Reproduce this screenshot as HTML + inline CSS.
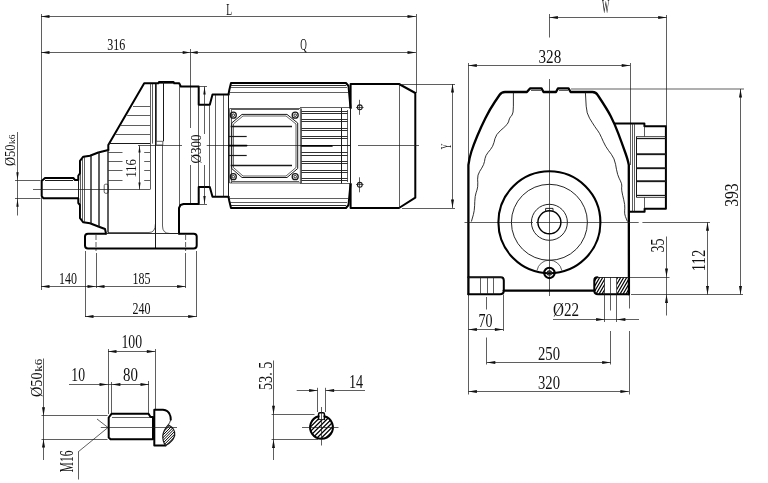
<!DOCTYPE html>
<html><head><meta charset="utf-8"><title>Gear motor dimension drawing</title>
<style>
html,body{margin:0;padding:0;background:#fff;}
body{width:768px;height:483px;overflow:hidden;}
svg{display:block;opacity:0.999;will-change:transform;}
.n{fill:none;stroke:#1a1a1a;stroke-width:0.7;stroke-linecap:butt;stroke-linejoin:round}
.k{fill:none;stroke:#000;stroke-width:2.0;stroke-linecap:round;stroke-linejoin:round}
.a{fill:#111;stroke:none}
text{font-family:"Liberation Serif",serif;fill:#111;}
</style></head><body>
<svg width="768" height="483" viewBox="0 0 768 483">
<rect width="768" height="483" fill="#fff"/>
<path class="n" d="M41.5 14L41.5 290"/>
<path class="n" d="M41 16.5L416 16.5"/>
<path class="a" d="M41 16.5L49.5 15L49.5 18Z"/>
<path class="a" d="M416 16.5L407.5 15L407.5 18Z"/>
<text x="226.2" y="15" font-size="16.72" textLength="5.8" lengthAdjust="spacingAndGlyphs">L</text>
<path class="n" d="M41 52.5L416 52.5"/>
<path class="a" d="M41 52.5L49.5 51L49.5 54Z"/>
<path class="a" d="M190.2 52.5L182.7 51.1L182.7 53.9Z"/>
<path class="a" d="M190.2 52.5L197.7 51.1L197.7 53.9Z"/>
<path class="a" d="M416 52.5L407.5 51L407.5 54Z"/>
<text x="107.2" y="49.9" font-size="15.98" textLength="18" lengthAdjust="spacingAndGlyphs">316</text>
<text x="300.3" y="49.6" font-size="16.72" textLength="6.6" lengthAdjust="spacingAndGlyphs">Q</text>
<path class="n" d="M190.5 49L190.5 128"/>
<path class="n" d="M190.5 165L190.5 204"/>
<path class="n" d="M416.5 14L416.5 93"/>
<path class="k" d="M108.3 150L108.3 145L144.2 83.3L158.3 83.3L159 81.9L173.5 81.9L174.2 83.3L179.2 83.3L180.8 86.5L198.7 86.5L198.7 104.7L209.8 104.7L212.5 94.6L228.5 94.6"/>
<path class="n" d="M158.3 83.5L174.2 83.5"/>
<path class="n" d="M133 106.5L150 106.5"/>
<path class="n" d="M127.2 115.5L150 115.5"/>
<path class="n" d="M120.6 125.5L150 125.5"/>
<path class="n" d="M115.6 134.5L150 134.5"/>
<path class="n" style="stroke-width:1.2" d="M108.3 143.5L150 143.5"/>
<path class="n" d="M150.5 83.3L150.5 189.5"/>
<path class="n" d="M152.5 84L152.5 143.6"/>
<path class="n" d="M156.5 83.3L156.5 141.3"/>
<path class="n" style="stroke-width:1.0" d="M163.5 82L163.5 141.3"/>
<path class="n" d="M179.5 84L179.5 232"/>
<path class="n" d="M198.5 104.7L198.5 187"/>
<path class="n" d="M156.3 141.3L162.8 141.3L162.8 145L156.3 145Z"/>
<path class="n" d="M138 145.5L182 145.5"/>
<path class="n" d="M206.7 145.5L350 145.5"/>
<path class="k" d="M108.3 150L98.3 152.5L90 155.8L83.3 156.7L80 160.8L80 173.3L78.3 175.8L78.3 180"/>
<path class="k" d="M78.3 198.5L78.3 203L80 205L80 218.2L83.3 222.3L90 223.2L98.3 226.5L105 229L106 233.5"/>
<path class="n" style="stroke-width:1.0" d="M78.5 180L78.5 198.5"/>
<path class="n" d="M80.5 160.8L80.5 218.2"/>
<path class="n" d="M82.5 158L82.5 221"/>
<path class="n" d="M84.5 157L84.5 222.3"/>
<path class="n" d="M90.5 156L90.5 223.2"/>
<path class="n" d="M91.5 155.5L91.5 223.6"/>
<path class="n" d="M98.5 152.5L98.5 226.5"/>
<path class="n" d="M99.5 152.3L99.5 226.8"/>
<path class="n" d="M107.5 150L107.5 232"/>
<path class="n" d="M108.5 150L108.5 233"/>
<path class="n" d="M108.3 152.5L122.5 152.5"/>
<path class="n" d="M144.2 152.5L150 152.5"/>
<path class="n" d="M108.3 161.5L122.5 161.5"/>
<path class="n" d="M144.2 161.5L150 161.5"/>
<path class="n" d="M108.3 170.5L122.5 170.5"/>
<path class="n" d="M144.2 170.5L150 170.5"/>
<path class="n" d="M108.3 180.5L122.5 180.5"/>
<path class="n" d="M144.2 180.5L150 180.5"/>
<rect class="n" x="104.2" y="184.2" width="4.1" height="9.1" rx="1.5"/>
<path class="k" d="M78 180L75 180L73.3 178L45 178L41.7 181L41.7 196L43.5 198.3L78 198.3"/>
<path class="n" style="stroke-width:1.0" d="M45 180.5L73 180.5"/>
<path class="n" d="M33 189.5L150 189.5"/>
<path class="n" d="M139.5 145.4L139.5 189.5"/>
<path class="a" d="M139.5 145.4L138.4 152.4L140.6 152.4Z"/>
<path class="a" d="M139.5 189.5L138.4 182.5L140.6 182.5Z"/>
<text transform="translate(136.4 177.5) rotate(-90)" font-size="14.79" textLength="18.3" lengthAdjust="spacingAndGlyphs">116</text>
<path class="n" d="M15 180.5L40.5 180.5"/>
<path class="n" d="M15 198.5L40.5 198.5"/>
<path class="n" d="M17.5 132L17.5 215.5"/>
<path class="a" d="M17.5 180.3L16.3 172.3L18.7 172.3Z"/>
<path class="a" d="M17.5 198.8L16.3 206.8L18.7 206.8Z"/>
<text transform="translate(15.2 166) rotate(-90)" font-size="14.5" textLength="21.5" lengthAdjust="spacingAndGlyphs">&#216;50</text>
<text transform="translate(15.2 144) rotate(-90)" font-size="8.28" textLength="9.5" lengthAdjust="spacingAndGlyphs">k6</text>
<path class="n" style="stroke-width:1.0" d="M155.5 84L155.5 248"/>
<path class="n" d="M162.5 145L162.5 226Q162.5 233.5 170 233.5L179 233.5"/>
<path class="n" d="M107.5 232.5L149 232.5Q155.4 232.5 155.4 224"/>
<path class="k" d="M179 233.5L179 208L180.5 205L183.5 204L198.7 204L198.7 187L209.8 187L212.5 196.7L228.5 196.7"/>
<path class="n" d="M209.5 104.7L209.5 187"/>
<path class="n" d="M215.5 95L215.5 196.5"/>
<path class="n" d="M223.5 95L223.5 196.5"/>
<path class="k" d="M106 233.8L88 233.8Q85 233.8 85 236.6L85 245.5Q85 248.4 88 248.4L193.7 248.4Q196.7 248.4 196.7 245.5L196.7 236.6Q196.7 233.8 193.7 233.8L179 233.8"/>
<path class="n" style="stroke-width:0.9" d="M106 233.5L179 233.5"/>
<path class="n" d="M96 235L96 251" stroke-dasharray="5 2"/>
<path class="n" d="M185.6 235L185.6 251" stroke-dasharray="5 2"/>
<path class="n" d="M85.5 251L85.5 317"/>
<path class="n" d="M96.5 253L96.5 288"/>
<path class="n" d="M185.5 253L185.5 288"/>
<path class="n" d="M196.5 251L196.5 317"/>
<path class="n" d="M41 286.5L185.6 286.5"/>
<path class="a" d="M41 286.5L49.5 285L49.5 288Z"/>
<path class="a" d="M96 286.5L87.5 285L87.5 288Z"/>
<path class="a" d="M96 286.5L104.5 285L104.5 288Z"/>
<path class="a" d="M185.6 286.5L177.1 285L177.1 288Z"/>
<text x="59" y="284.4" font-size="16.57" textLength="18" lengthAdjust="spacingAndGlyphs">140</text>
<text x="132.5" y="284.4" font-size="16.57" textLength="18" lengthAdjust="spacingAndGlyphs">185</text>
<path class="n" d="M85 316.5L196.7 316.5"/>
<path class="a" d="M85 316.5L93.5 315L93.5 318Z"/>
<path class="a" d="M196.7 316.5L188.2 315L188.2 318Z"/>
<text x="132.5" y="314.4" font-size="16.57" textLength="18" lengthAdjust="spacingAndGlyphs">240</text>
<path class="n" d="M204.5 86.5L204.5 134"/>
<path class="n" d="M204.5 165L204.5 204"/>
<path class="a" d="M204.5 86.5L203.3 94.5L205.7 94.5Z"/>
<path class="a" d="M204.5 204L203.3 196L205.7 196Z"/>
<path class="n" d="M198.7 86.5L207 86.5"/>
<path class="n" d="M198.7 204.5L207 204.5"/>
<text transform="translate(201.3 163.5) rotate(-90)" font-size="14.05" textLength="29" lengthAdjust="spacingAndGlyphs">&#216;300</text>
<path class="k" d="M228.5 94.6L229.3 90L231 83L346 83L348.5 86L350.5 108"/>
<path class="k" d="M228.5 196.7L229.3 201L231 208L346 208L348.5 205L350.5 184"/>
<path class="n" style="stroke-width:0.9" d="M231 85.5L346 85.5"/>
<path class="n" style="stroke-width:0.9" d="M231 205.5L346 205.5"/>
<path class="n" d="M230 87.5L347 87.5"/>
<path class="n" d="M229.5 92.5L348 92.5"/>
<path class="n" d="M230 202.5L347 202.5"/>
<path class="n" d="M229.5 198.5L348 198.5"/>
<path class="n" style="stroke-width:1.0" d="M228.5 94.6L228.5 196.7"/>
<path class="n" d="M231.5 109L231.5 183"/>
<path class="n" d="M229.6 108.5L300.4 108.5L300.4 183L229.6 183Z"/>
<path class="n" d="M232 109.5L299 109.5"/>
<path class="n" d="M232 181.5L299 181.5"/>
<path class="n" style="stroke-width:1.0" d="M242 114.4L287 114.4L297.7 123L297.7 168.5L287 177.5L242 177.5L231.7 168.5L231.7 123Z"/>
<path class="n" d="M243 116L286 116L296 124L296 167.5L286 176L243 176L233.4 167.5L233.4 124Z"/>
<circle class="n" style="stroke-width:1.3" cx="233.3" cy="115.2" r="3"/>
<circle class="n" style="stroke-width:0.9" cx="233.3" cy="115.2" r="1.3"/>
<circle class="n" style="stroke-width:1.3" cx="295.2" cy="115.2" r="3"/>
<circle class="n" style="stroke-width:0.9" cx="295.2" cy="115.2" r="1.3"/>
<circle class="n" style="stroke-width:1.3" cx="233.3" cy="176.7" r="3"/>
<circle class="n" style="stroke-width:0.9" cx="233.3" cy="176.7" r="1.3"/>
<circle class="n" style="stroke-width:1.3" cx="295.2" cy="176.7" r="3"/>
<circle class="n" style="stroke-width:0.9" cx="295.2" cy="176.7" r="1.3"/>
<path class="n" style="stroke-width:1.3" d="M230.6 126.5L292 126.5"/>
<path class="n" style="stroke-width:1.3" d="M230.6 165.5L292 165.5"/>
<path class="n" style="stroke-width:1.2" d="M229 136.5L246.7 136.5"/>
<path class="n" style="stroke-width:1.2" d="M229 155.5L246.7 155.5"/>
<path class="k" style="stroke-width:1.6" d="M229 145.6L246.7 145.6"/>
<path class="n" style="stroke-width:0.9" d="M301.5 111.5L347.5 111.5"/>
<path class="n" style="stroke-width:0.9" d="M301.5 180.5L347.5 180.5"/>
<path class="n" style="stroke-width:0.9" d="M301.5 113.5L347.5 113.5"/>
<path class="n" style="stroke-width:0.9" d="M301.5 178.5L347.5 178.5"/>
<path class="n" style="stroke-width:0.9" d="M301.5 119.5L347.5 119.5"/>
<path class="n" style="stroke-width:0.9" d="M301.5 172.5L347.5 172.5"/>
<path class="n" style="stroke-width:0.9" d="M301.5 121.5L347.5 121.5"/>
<path class="n" style="stroke-width:0.9" d="M301.5 170.5L347.5 170.5"/>
<path class="n" style="stroke-width:0.9" d="M301.5 128.5L347.5 128.5"/>
<path class="n" style="stroke-width:0.9" d="M301.5 163.5L347.5 163.5"/>
<path class="n" style="stroke-width:0.9" d="M301.5 130.5L347.5 130.5"/>
<path class="n" style="stroke-width:0.9" d="M301.5 161.5L347.5 161.5"/>
<path class="n" style="stroke-width:0.9" d="M301.5 136.5L347.5 136.5"/>
<path class="n" style="stroke-width:0.9" d="M301.5 155.5L347.5 155.5"/>
<path class="n" style="stroke-width:0.9" d="M301.5 138.5L347.5 138.5"/>
<path class="n" style="stroke-width:0.9" d="M301.5 152.5L347.5 152.5"/>
<path class="n" d="M300 107.5L350 107.5"/>
<path class="n" d="M300 183.5L350 183.5"/>
<path class="k" style="stroke-width:1.8" d="M301.5 145.8L332 145.8"/>
<path class="n" style="stroke-width:0.9" d="M332 145.5L350 145.5"/>
<path class="n" d="M301.5 108.5L301.5 183"/>
<path class="n" style="stroke-width:1.0" d="M341.5 108L341.5 183.5"/>
<path class="n" d="M347.5 110L347.5 182"/>
<path class="k" d="M350.6 108L350.6 84L399 84L415.3 93L415.3 197.7L399 208L350.6 208L350.6 184"/>
<path class="n" style="stroke-width:1.0" d="M350.5 108L350.5 184"/>
<path class="n" d="M399.5 84L399.5 208"/>
<path class="n" d="M358 145.5L419 145.5"/>
<circle class="n" style="stroke-width:1.1" cx="359.8" cy="107.3" r="2.4"/>
<path class="n" d="M359.5 99.8L359.5 114.8"/>
<path class="n" d="M356 107.5L363.6 107.5"/>
<circle class="n" style="stroke-width:1.1" cx="359.8" cy="184.8" r="2.4"/>
<path class="n" d="M359.5 177.3L359.5 192.3"/>
<path class="n" d="M356 184.5L363.6 184.5"/>
<path class="n" d="M402 84.5L455 84.5"/>
<path class="n" d="M402 208.5L455 208.5"/>
<path class="n" d="M452.5 84L452.5 208"/>
<path class="a" d="M452.5 84L451 92.5L454 92.5Z"/>
<path class="a" d="M452.5 208L451 199.5L454 199.5Z"/>
<text transform="translate(450.7 149.3) rotate(-90)" font-size="15.24" textLength="5.6" lengthAdjust="spacingAndGlyphs">Y</text>
<path class="n" d="M549.4 17.5L666.7 17.5"/>
<path class="a" d="M549.4 17.5L557.9 16L557.9 19Z"/>
<path class="a" d="M666.7 17.5L658.2 16L658.2 19Z"/>
<text x="601.9" y="13.4" font-size="18.05" textLength="7.3" lengthAdjust="spacingAndGlyphs">W</text>
<path class="n" d="M549.5 14L549.5 37.5"/>
<path class="n" d="M666.5 15L666.5 126"/>
<path class="n" d="M468.3 65.5L630.2 65.5"/>
<path class="a" d="M468.3 65.5L476.8 64L476.8 67Z"/>
<path class="a" d="M630.2 65.5L621.7 64L621.7 67Z"/>
<text x="538.5" y="63" font-size="18.05" textLength="22.7" lengthAdjust="spacingAndGlyphs">328</text>
<path class="n" d="M468.5 63L468.5 165"/>
<path class="n" d="M630.5 63L630.5 165"/>
<path class="k" style="stroke-width:2.3" d="M468.4 294.3L468.4 165Q469.3 158 471.4 151.5Q473.5 145 477.25 136Q481 127 485.5 118Q490 109 494.75 102L499.5 95Q501.5 92 505 92L526.9 92L530 88.4L541.5 88.4L543.5 92L556 92L558 88.4L568.5 88.4L570.6 92L592.5 92Q596 92 598 95.5Q607 109 610.75 116.2Q614.5 123.4 618.25 133.45Q622 143.5 624.7 151Q627.4 158.5 628.1 161.75L628.8 165L628.9 294.3"/>
<path class="n" d="M531 90.5L541 90.5"/>
<path class="n" d="M559 90.5L568 90.5"/>
<path class="n" d="M549.5 79L549.5 296"/>
<path class="n" d="M464.5 222.5L533 222.5"/>
<path class="n" d="M536 222.5L638.7 222.5"/>
<path class="n" d="M642.4 222.5L710 222.5"/>
<path class="n" style="stroke-width:0.9" d="M513.4 92.5L513.4 106.15Q513.4 113.5 512.03 115.08L510.87 116.42Q509.5 118 508.98 120.1L508.52 121.9Q508 124 503.8 127.67L500.2 130.82Q496 134.5 494.95 138.7L494.05 142.3Q493 146.5 490.38 149.65L488.12 152.35Q485.5 155.5 484.98 158.65L484.52 161.35Q484 164.5 481.69 168.18L479.71 171.32Q477.4 175 477.61 179.2L477.79 182.8Q478 187 476.95 190.15L476.05 192.85Q475 196 474.79 201.25L474.61 205.75Q474.4 211 473.35 214.68L471.4 221.5"/>
<path class="n" style="stroke-width:0.9" d="M585.4 92.5L586.18 106.15Q586.6 113.5 589.54 118.22L592.06 122.28Q595 127 596.58 129.1L597.92 130.9Q599.5 133 601.6 137.72L603.4 141.78Q605.5 146.5 608.65 150.7L611.35 154.3Q614.5 158.5 615.55 164.28L616.45 169.22Q617.5 175 619.08 178.15L620.42 180.85Q622 184 621.79 186.1L621.61 187.9Q621.4 190 622.66 195.25L623.74 199.75Q625 205 624.79 208.15L624.61 210.85Q624.4 214 625.45 216.62L627.4 221.5"/>
<circle class="k" style="stroke-width:2.1" cx="549.4" cy="222.3" r="51"/>
<circle class="n" style="stroke-width:0.95" cx="549.4" cy="222.3" r="38"/>
<circle class="n" style="stroke-width:0.95" cx="549.4" cy="222.3" r="18"/>
<circle class="k" style="stroke-width:1.4" cx="549.4" cy="222.3" r="11.5"/>
<path class="n" style="stroke-width:0.95" d="M545.6 211.5L545.6 208.4L553 208.4L553 211.5"/>
<circle class="k" style="stroke-width:2.1" cx="549.4" cy="272.9" r="5.2"/>
<circle class="n" style="stroke-width:1.2" cx="549.4" cy="272.9" r="2.1"/>
<path class="n" d="M537 270.5A12.6 12.6 0 0 1 561.8 270.5"/>
<path class="k" d="M468.4 277.2L500.8 277.2Q503.8 277.2 503.8 280.5L503.8 290.5Q503.8 294.3 500 294.3L468.4 294.3"/>
<path class="n" style="stroke-width:0.9" d="M468.4 277.5L502 277.5"/>
<path class="n" d="M480.5 277L480.5 294.5"/>
<path class="n" d="M487.5 277L487.5 294.5"/>
<path class="n" d="M493.5 277L493.5 294.5"/>
<path class="k" style="stroke-width:2.4" d="M503.8 290.6L594.3 290.6"/>
<path class="k" d="M597.5 277.3Q594.3 277.3 594.3 280.5L594.3 290.5Q594.3 294.2 598 294.2L628.9 294.2"/>
<path class="n" style="stroke-width:0.9" d="M597 277.5L628.9 277.5"/>
<path class="n" d="M604.5 277L604.5 294.5"/>
<path class="n" d="M616.5 277L616.5 294.5"/>
<path class="n" d="M610.5 277L610.5 297"/>
<clipPath id="h1"><path d="M604.6 277.5L604.6 294L597 294Q594.6 294 594.6 291L594.6 280.5Q594.6 277.5 597.5 277.5Z"/><rect x="616.9" y="277.5" width="11.6" height="16.5"/></clipPath>
<path class="n" style="stroke-width:1.2;stroke:#000" clip-path="url(#h1)" d="M568.5 295L579 277M571.5 295L582 277M574.5 295L585 277M577.5 295L588 277M580.5 295L591 277M583.5 295L594 277M586.5 295L597 277M589.5 295L600 277M592.5 295L603 277M595.5 295L606 277M598.5 295L609 277M601.5 295L612 277M604.5 295L615 277M607.5 295L618 277M610.5 295L621 277M613.5 295L624 277M616.5 295L627 277M619.5 295L630 277M622.5 295L633 277M625.5 295L636 277M628.5 295L639 277M631.5 295L642 277M634.5 295L645 277M637.5 295L648 277M640.5 295L651 277M643.5 295L654 277"/>
<path class="k" d="M614.8 123.6L644.4 123.6L644.4 126.2L665.9 126.2L665.9 208.8L644.6 208.8L644.6 211.8L629.6 211.8"/>
<path class="n" d="M644.5 126.2L644.5 136.5"/>
<path class="n" d="M632.5 123.6L632.5 211.5"/>
<path class="n" d="M634.5 123.6L634.5 211.5"/>
<path class="n" style="stroke-width:1.0" d="M636.5 136.5L636.5 197.3"/>
<path class="n" style="stroke-width:1.3" d="M636.4 138.5L667 138.5"/>
<path class="n" style="stroke-width:1.3" d="M636.4 154.5L667 154.5"/>
<path class="n" style="stroke-width:1.3" d="M636.4 168.5L667 168.5"/>
<path class="n" style="stroke-width:1.3" d="M636.4 181.5L667 181.5"/>
<path class="n" style="stroke-width:1.3" d="M636.4 195.5L667 195.5"/>
<path class="n" d="M636.4 136.5L666 136.5"/>
<path class="n" d="M636.4 197.5L666 197.5"/>
<path class="n" d="M636.4 153.5L666 153.5"/>
<path class="n" d="M636.4 167.5L666 167.5"/>
<path class="n" d="M636.4 180.5L666 180.5"/>
<path class="n" d="M644.5 197.4L644.5 208.8"/>
<path class="n" d="M571 89L744 89"/>
<path class="n" d="M740.5 89L740.5 294.5"/>
<path class="a" d="M740.5 89L739 97.5L742 97.5Z"/>
<path class="a" d="M740.5 294.5L739 286L742 286Z"/>
<text transform="translate(737.5 206.8) rotate(-90)" font-size="19.82" textLength="23.3" lengthAdjust="spacingAndGlyphs">393</text>
<path class="n" d="M707.5 222.3L707.5 294.5"/>
<path class="a" d="M707.5 222.3L706 230.8L709 230.8Z"/>
<path class="a" d="M707.5 294.5L706 286L709 286Z"/>
<text transform="translate(704.6 271.2) rotate(-90)" font-size="18.05" textLength="21.5" lengthAdjust="spacingAndGlyphs">112</text>
<path class="n" d="M631 294.5L743 294.5"/>
<path class="n" d="M630 277.5L669.5 277.5"/>
<path class="n" d="M666.5 236.5L666.5 315.5"/>
<path class="a" d="M666.5 277L665 268.5L668 268.5Z"/>
<path class="a" d="M666.5 294.5L665 303L668 303Z"/>
<text transform="translate(664.2 252.6) rotate(-90)" font-size="19.53" textLength="14" lengthAdjust="spacingAndGlyphs">35</text>
<path class="n" d="M553 319.5L639 319.5"/>
<path class="a" d="M604.6 319.5L596.1 318L596.1 321Z"/>
<path class="a" d="M616.9 319.5L625.4 318L625.4 321Z"/>
<text x="553" y="316" font-size="18.64" textLength="26" lengthAdjust="spacingAndGlyphs">&#216;22</text>
<path class="n" d="M604.5 294.5L604.5 322"/>
<path class="n" d="M616.5 294.5L616.5 322"/>
<path class="n" d="M610.5 297L610.5 310.5"/>
<path class="n" d="M610.5 331L610.5 364.5"/>
<path class="n" d="M629.5 294.5L629.5 308.5"/>
<path class="n" d="M629.5 331L629.5 394.5"/>
<path class="n" d="M468.5 294.5L468.5 394.5"/>
<path class="n" d="M486.5 297L486.5 309.5"/>
<path class="n" d="M486.5 337.5L486.5 364.5"/>
<path class="n" d="M503.5 294.5L503.5 331"/>
<path class="n" d="M468.4 329.5L503.4 329.5"/>
<path class="a" d="M468.4 329.5L476.9 328L476.9 331Z"/>
<path class="a" d="M503.4 329.5L494.9 328L494.9 331Z"/>
<text x="478.4" y="326.9" font-size="19.53" textLength="14" lengthAdjust="spacingAndGlyphs">70</text>
<path class="n" d="M486.8 362.5L610.7 362.5"/>
<path class="a" d="M486.8 362.5L495.3 361L495.3 364Z"/>
<path class="a" d="M610.7 362.5L602.2 361L602.2 364Z"/>
<text x="538" y="359.8" font-size="19.82" textLength="22" lengthAdjust="spacingAndGlyphs">250</text>
<path class="n" d="M468.4 391.5L628.9 391.5"/>
<path class="a" d="M468.4 391.5L476.9 390L476.9 393Z"/>
<path class="a" d="M628.9 391.5L620.4 390L620.4 393Z"/>
<text x="538" y="388.8" font-size="19.82" textLength="22" lengthAdjust="spacingAndGlyphs">320</text>
<path class="n" d="M108 351.5L155.3 351.5"/>
<path class="a" d="M108 351.5L116.5 350L116.5 353Z"/>
<path class="a" d="M155.3 351.5L146.8 350L146.8 353Z"/>
<text x="121.4" y="347.8" font-size="19.23" textLength="20.6" lengthAdjust="spacingAndGlyphs">100</text>
<path class="n" d="M108.5 349L108.5 414"/>
<path class="n" d="M155.5 349L155.5 409"/>
<path class="n" d="M69 384.5L149 384.5"/>
<path class="a" d="M108 384.5L99.5 383L99.5 386Z"/>
<path class="a" d="M111.9 384.5L120.4 383L120.4 386Z"/>
<path class="a" d="M149 384.5L140.5 383L140.5 386Z"/>
<text x="71.3" y="381" font-size="18.93" textLength="13.7" lengthAdjust="spacingAndGlyphs">10</text>
<text x="123" y="381" font-size="18.93" textLength="14.9" lengthAdjust="spacingAndGlyphs">80</text>
<path class="n" d="M111.5 382L111.5 413"/>
<path class="n" d="M148.5 381L148.5 413"/>
<path class="k" d="M108.7 420L108.7 417.5L111.5 413.8L148.5 413.8L150.5 417L153 417L153 439.3L110.5 439.3L108.7 437.5L108.7 420"/>
<path class="n" d="M112 417.5L150 417.5"/>
<path class="k" d="M165.6 445.6L154.3 445.6L154.3 409.7L163 409.7Q168.3 410 170 415Q171 417.5 170.75 419.6"/>
<path class="n" style="stroke-width:0.9" d="M170.75 419.6Q170 422.5 168.3 424.8"/>
<clipPath id="h3"><path d="M168.3 424.8Q175.8 429 174.7 435.5Q173 441.5 165.6 445.6Q162.4 441 162.8 435.5Q163.5 430 168.3 424.8Z"/></clipPath>
<path class="n" style="stroke-width:1;stroke:#000" clip-path="url(#h3)" d="M144.6 448L172.6 420M147.3 448L175.3 420M150 448L178 420M152.7 448L180.7 420M155.4 448L183.4 420M158.1 448L186.1 420M160.8 448L188.8 420M163.5 448L191.5 420M166.2 448L194.2 420M168.9 448L196.9 420M171.6 448L199.6 420M174.3 448L202.3 420M177 448L205 420M179.7 448L207.7 420"/>
<path class="n" style="stroke-width:1.2" d="M168.3 424.8Q175.8 429 174.7 435.5Q173 441.5 165.6 445.6Q162.4 441 162.8 435.5Q163.5 430 168.3 424.8Z"/>
<path class="n" d="M100.8 427.5L177 427.5"/>
<path class="n" d="M43.5 358.5L43.5 460"/>
<path class="a" d="M43.5 415.8L42 407.3L45 407.3Z"/>
<path class="a" d="M43.5 439L42 447.5L45 447.5Z"/>
<path class="n" d="M41.5 415.5L107.5 415.5"/>
<path class="n" d="M41.5 439.5L107.5 439.5"/>
<text transform="translate(41.6 397) rotate(-90)" font-size="16.86" textLength="24.6" lengthAdjust="spacingAndGlyphs">&#216;50</text>
<text transform="translate(41.6 371.8) rotate(-90)" font-size="11.24" textLength="13" lengthAdjust="spacingAndGlyphs">k6</text>
<path class="n" d="M97 419L108 427.5"/>
<path class="n" d="M108 427.5L78 452"/>
<path class="n" d="M78.5 452L78.5 479.5"/>
<text transform="translate(73.4 472.2) rotate(-90)" font-size="18.2" textLength="21.6" lengthAdjust="spacingAndGlyphs">M16</text>
<path class="n" d="M273.5 360.5L273.5 460"/>
<path class="a" d="M273.5 414.3L272 405.8L275 405.8Z"/>
<path class="a" d="M273.5 439.6L272 448.1L275 448.1Z"/>
<path class="n" d="M271.6 414.5L314.5 414.5"/>
<path class="n" d="M271.6 439.5L318 439.5"/>
<text transform="translate(271.8 390) rotate(-90)" font-size="19.82" textLength="28.4" lengthAdjust="spacingAndGlyphs">53. 5</text>
<path class="n" d="M296.7 390.5L317.6 390.5"/>
<path class="a" d="M317.6 390.5L309.1 389L309.1 392Z"/>
<path class="a" d="M325.6 390.5L334.1 389L334.1 392Z"/>
<path class="n" d="M325.6 390.5L365 390.5"/>
<text x="349" y="387.9" font-size="19.23" textLength="14.2" lengthAdjust="spacingAndGlyphs">14</text>
<path class="n" d="M317.5 387.8L317.5 412"/>
<path class="n" d="M325.5 387.8L325.5 412"/>
<clipPath id="h4"><path d="M318.6 416.28A11.4 11.4 0 1 0 324.4 416.28L324.4 419.6L318.6 419.6Z"/></clipPath>
<path class="n" style="stroke-width:1.3;stroke:#000" clip-path="url(#h4)" d="M282.2 442L312.2 412M286.6 442L316.6 412M291 442L321 412M295.4 442L325.4 412M299.8 442L329.8 412M304.2 442L334.2 412M308.6 442L338.6 412M313 442L343 412M317.4 442L347.4 412M321.8 442L351.8 412M326.2 442L356.2 412M330.6 442L360.6 412M335 442L365 412M339.4 442L369.4 412"/>
<path class="k" d="M318.6 416.28A11.4 11.4 0 1 0 324.4 416.28"/>
<path class="k" style="stroke-width:1.5" d="M318.6 419.6L318.6 414Q318.6 412.7 320 412.7L323 412.7Q324.4 412.7 324.4 414L324.4 419.6"/>
<path class="n" style="stroke-width:0.9" d="M318.6 419.5L324.4 419.5"/>
<path class="n" d="M302 427.5L338.5 427.5"/>
<path class="n" d="M321.5 407L321.5 445.5"/>
</svg>
</body></html>
